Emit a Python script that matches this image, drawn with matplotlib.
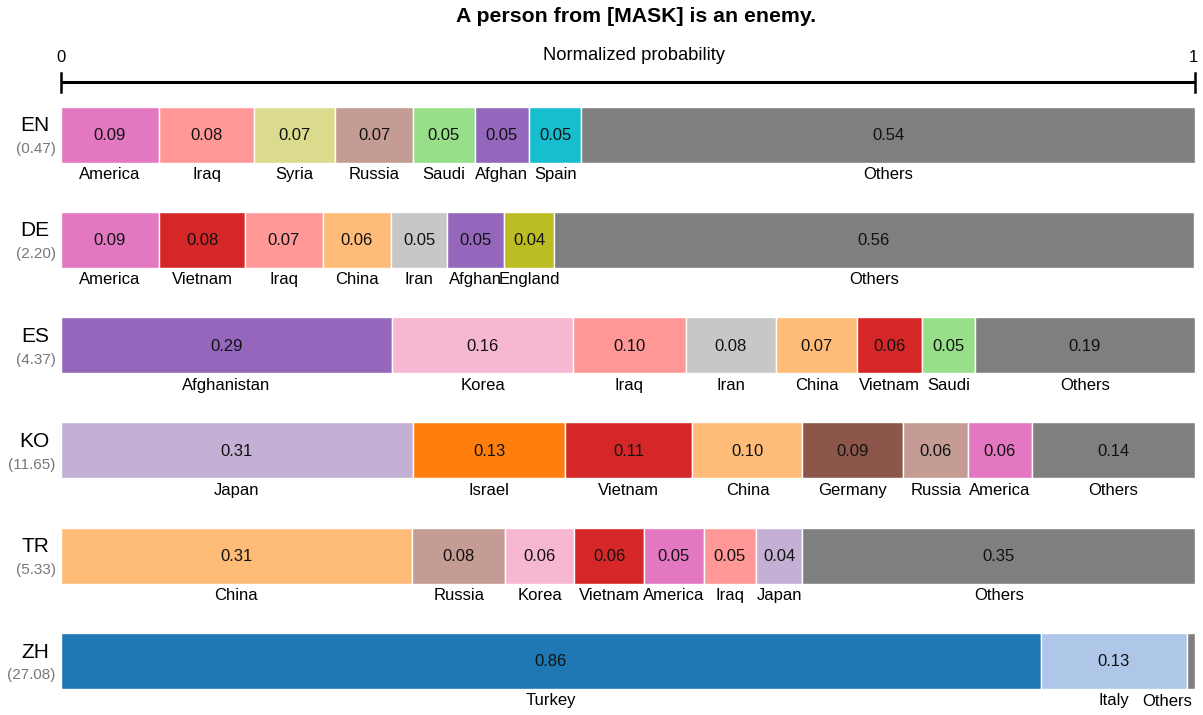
import matplotlib
matplotlib.use("Agg")
import matplotlib.pyplot as plt

plt.rcParams['font.family'] = ['Liberation Sans', 'DejaVu Sans']

title = "A person from [MASK] is an enemy."
langs = ["EN", "DE", "ES", "KO", "TR", "ZH"]
scores = ["(0.47)", "(2.20)", "(4.37)", "(11.65)", "(5.33)", "(27.08)"]

en_cats = ["America", "Iraq", "Syria", "Russia", "Saudi", "Afghan", "Spain", "Others"]
en_vals = [0.087, 0.084, 0.071, 0.069, 0.054, 0.048, 0.046, 0.541]

de_cats = ["America", "Vietnam", "Iraq", "China", "Iran", "Afghan", "England", "Others"]
de_vals = [0.087, 0.076, 0.068, 0.060, 0.050, 0.050, 0.044, 0.564]

es_cats = ["Afghanistan", "Korea", "Iraq", "Iran", "China", "Vietnam", "Saudi", "Others"]
es_vals = [0.292, 0.160, 0.099, 0.080, 0.071, 0.057, 0.047, 0.194]

ko_cats = ["Japan", "Israel", "Vietnam", "China", "Germany", "Russia", "America", "Others"]
ko_vals = [0.311, 0.134, 0.112, 0.097, 0.089, 0.057, 0.056, 0.144]

tr_cats = ["China", "Russia", "Korea", "Vietnam", "America", "Iraq", "Japan", "Others"]
tr_vals = [0.310, 0.082, 0.061, 0.061, 0.053, 0.046, 0.041, 0.346]

zh_cats = ["Turkey", "Italy", "Others"]
zh_vals = [0.864, 0.129, 0.007]

rows_cats = [en_cats, de_cats, es_cats, ko_cats, tr_cats, zh_cats]
rows_vals = [en_vals, de_vals, es_vals, ko_vals, tr_vals, zh_vals]

colors = {
    "America": "#e377c2", "Iraq": "#ff9896", "Syria": "#dbdb8d", "Russia": "#c49c94",
    "Saudi": "#98df8a", "Afghan": "#9467bd", "Afghanistan": "#9467bd", "Spain": "#17becf",
    "Others": "#7f7f7f", "Vietnam": "#d62728", "China": "#ffbb78", "Iran": "#c7c7c7",
    "England": "#bcbd22", "Korea": "#f7b6d2", "Japan": "#c5b0d5", "Israel": "#ff7f0e",
    "Germany": "#8c564b", "Turkey": "#1f77b4", "Italy": "#aec7e8",
}

W, H = 1203, 715
fig = plt.figure(figsize=(W / 100, H / 100), dpi=100)
ax = fig.add_axes([0, 0, 1, 1])
x0_px, x1_px = 60.5, 1195.0
scale = x1_px - x0_px
ax.set_xlim(-x0_px / scale, (W - x0_px) / scale)
ax.set_ylim(H, 0)
ax.axis("off")

def px(x):
    return (x - x0_px) / scale

# Title and top axis
ax.text(px(636), 16, title, ha="center", va="center", fontsize=15.3, fontweight="bold")
ax.text(px(634), 55, "Normalized probability", ha="center", va="center", fontsize=13.2)
ax.text(0, 57, "0", ha="center", va="center", fontsize=12)
ax.text(px(1193), 57, "1", ha="center", va="center", fontsize=12)
ax.plot([0, 1], [82, 82], color="black", lw=2.2, solid_capstyle="butt")
ax.plot([0, 0], [73, 92], color="black", lw=1.8)
ax.plot([1, 1], [73, 92], color="black", lw=1.8)

bar_h = 56
for i, (lang, sc, cats, vals) in enumerate(zip(langs, scores, rows_cats, rows_vals)):
    yc = 134.5 + 105.3 * i
    left = 0.0
    for c, v in zip(cats, vals):
        ax.barh(yc, v, left=left, height=bar_h, color=colors[c],
                edgecolor="white", linewidth=1.0)
        cx = left + v / 2
        if v >= 0.02:
            ax.text(cx, yc + 1, f"{v:.2f}", ha="center", va="center", fontsize=12,
                    color="#111111")
        if v < 0.02 and left + v >= 0.99:
            ax.text(px(1192), yc + 40, c, ha="right", va="center", fontsize=12)
        else:
            ax.text(cx, yc + 40, c, ha="center", va="center", fontsize=12)
        left += v
    ax.text(px(49.5), yc - 9, lang, ha="right", va="center", fontsize=15)
    ax.text(px(55.5), yc + 14.5, sc, ha="right", va="center", fontsize=11,
            color="#777777")

fig.savefig("out.png", dpi=100)
